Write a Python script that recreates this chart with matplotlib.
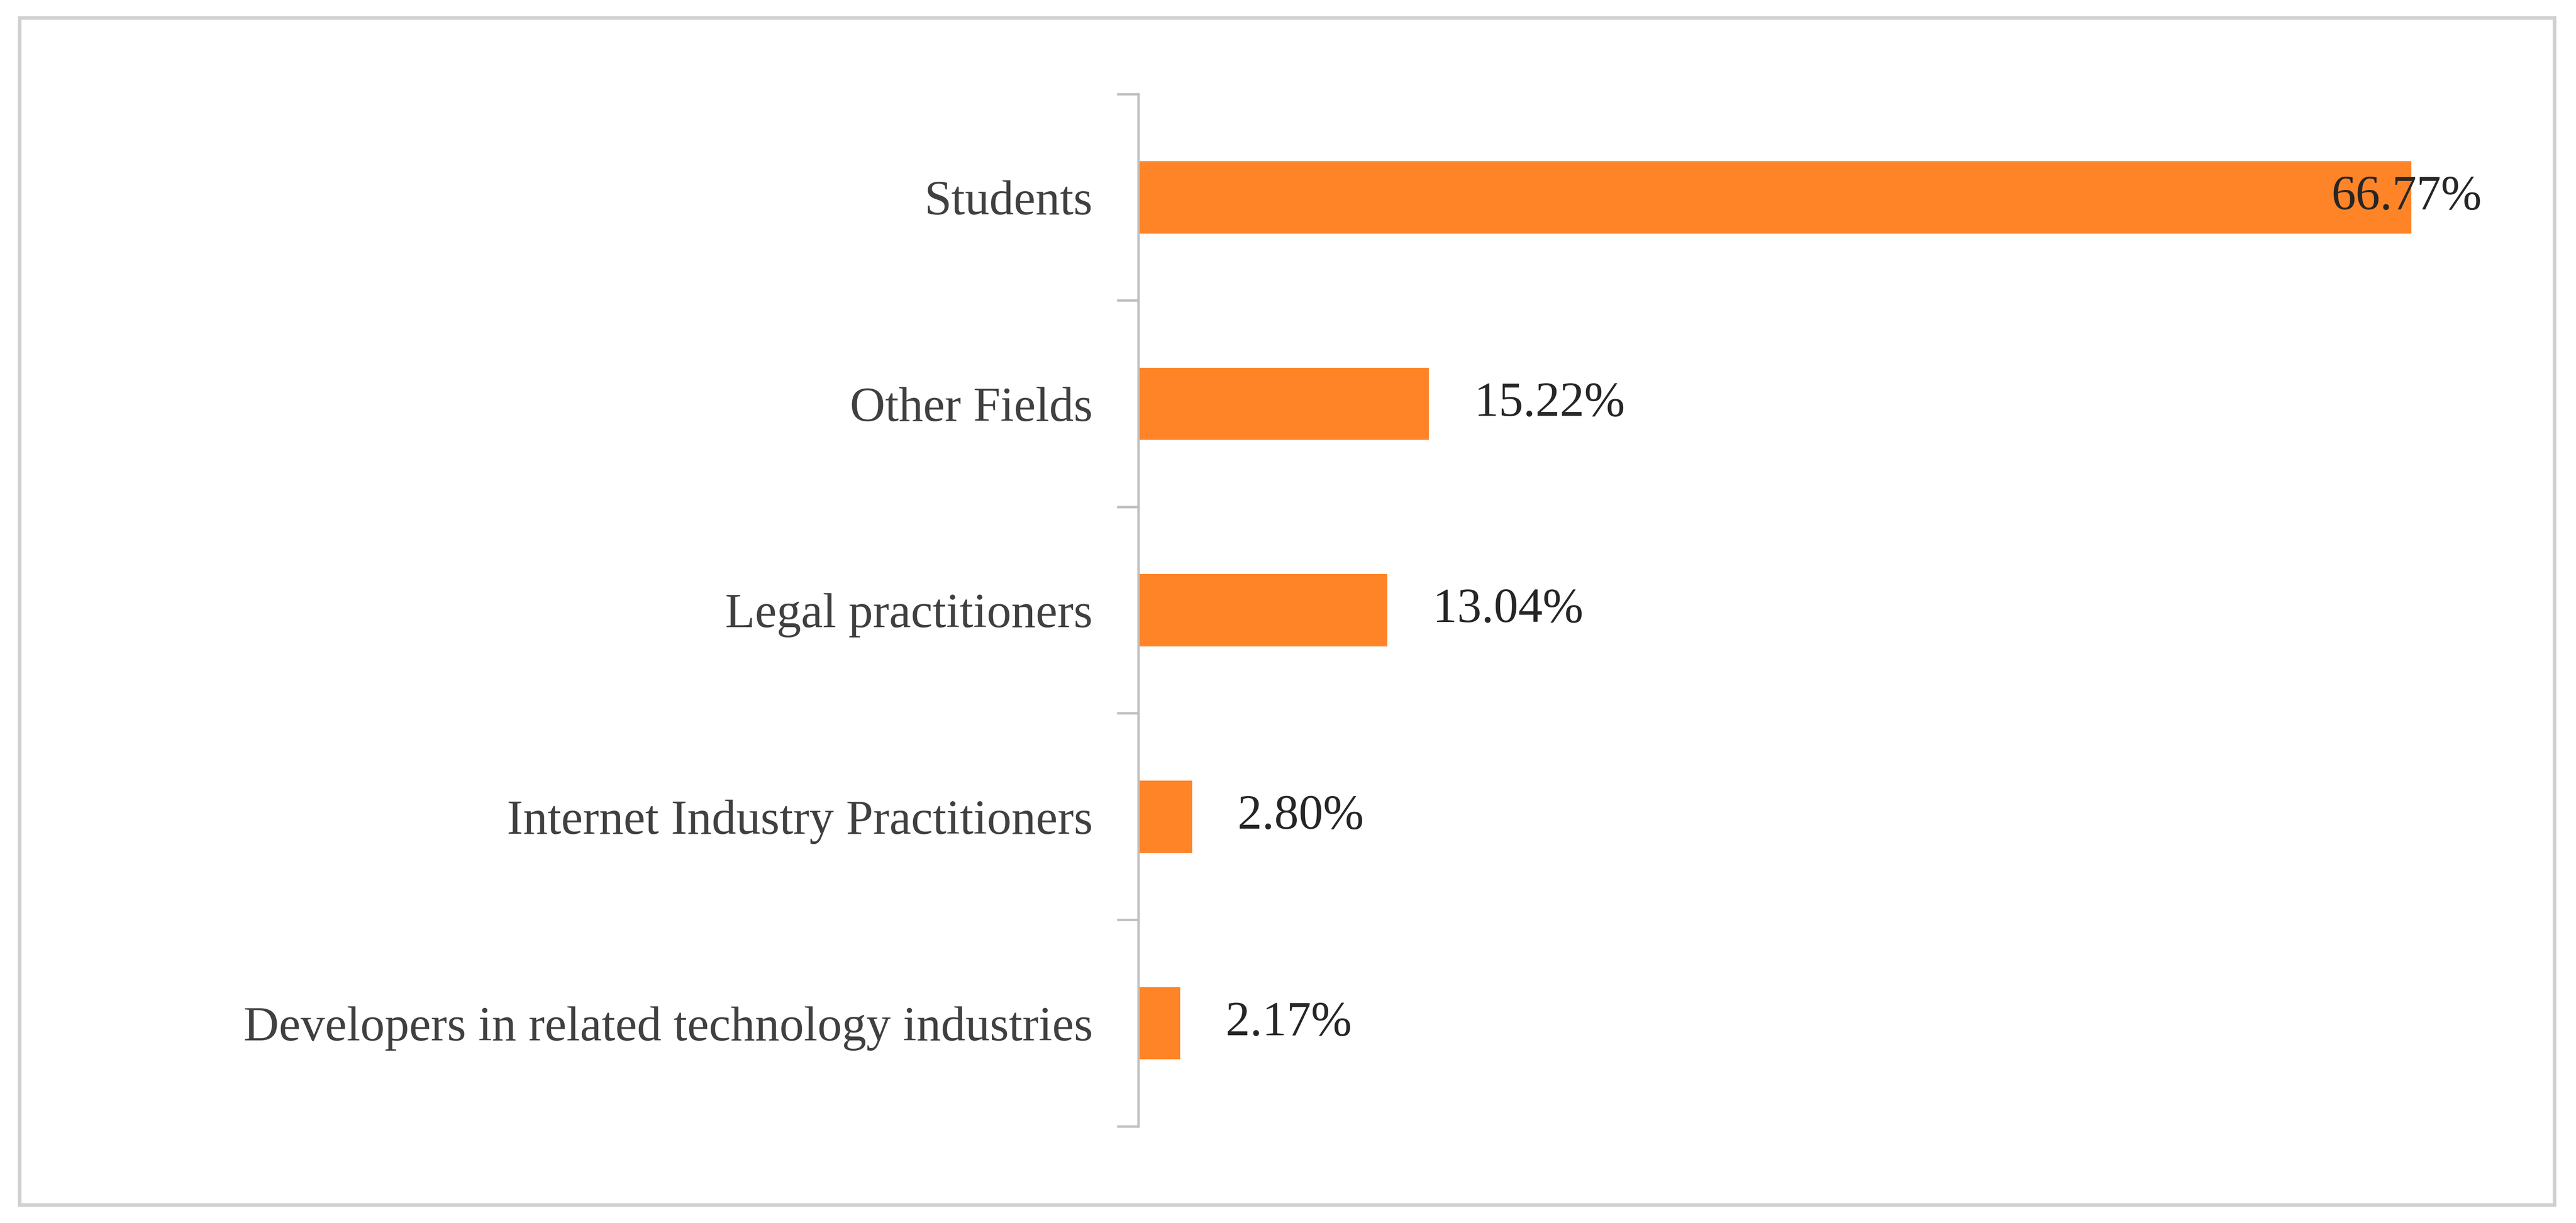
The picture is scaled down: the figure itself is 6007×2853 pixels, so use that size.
import matplotlib.pyplot as plt
from matplotlib.patches import Rectangle
import numpy as np

categories = ['Developers in related technology industries',
              'Internet Industry Practitioners',
              'Legal practitioners',
              'Other Fields',
              'Students']
values = [2.17, 2.80, 13.04, 15.22, 66.77]
labels = ['2.17%', '2.80%', '13.04%', '15.22%', '66.77%']

plt.rcParams['font.family'] = ['Liberation Serif', 'DejaVu Serif']

fig = plt.figure(figsize=(60.07, 28.53), dpi=100)
ax = fig.add_axes([0.442, 0.079, 0.494, 0.844])

y = np.arange(len(categories))
ax.barh(y, values, height=0.35, color='#FF8427')

for yi, v, lab in zip(y, values, labels):
    # the largest label sits over the bar end, as in the source
    x = v - 4.2 if v == max(values) else v + 2.4
    ax.text(x, yi, lab, va='center', ha='left', fontsize=82, color='#262626')

ax.set_xlim(0, max(values))
ax.set_ylim(-0.5, len(categories) - 0.5)
ax.set_yticks(y)
ax.set_yticklabels(categories, fontsize=82, color='#404040')
ax.tick_params(axis='y', which='major', length=0, pad=77)
ax.set_yticks(np.arange(-0.5, len(categories)), minor=True)
ax.tick_params(axis='y', which='minor', length=36, width=4, color='#bfbfbf')
ax.set_xticks([])

for s in ['top', 'right', 'bottom']:
    ax.spines[s].set_visible(False)
ax.spines['left'].set_color('#bfbfbf')
ax.spines['left'].set_linewidth(4)

fig.patches.append(Rectangle((12/1568, 11/744), 1543/1568, 722/744,
                             transform=fig.transFigure, fill=False,
                             edgecolor='#d0d0d0', linewidth=6))

fig.savefig('out.png', dpi=100)
